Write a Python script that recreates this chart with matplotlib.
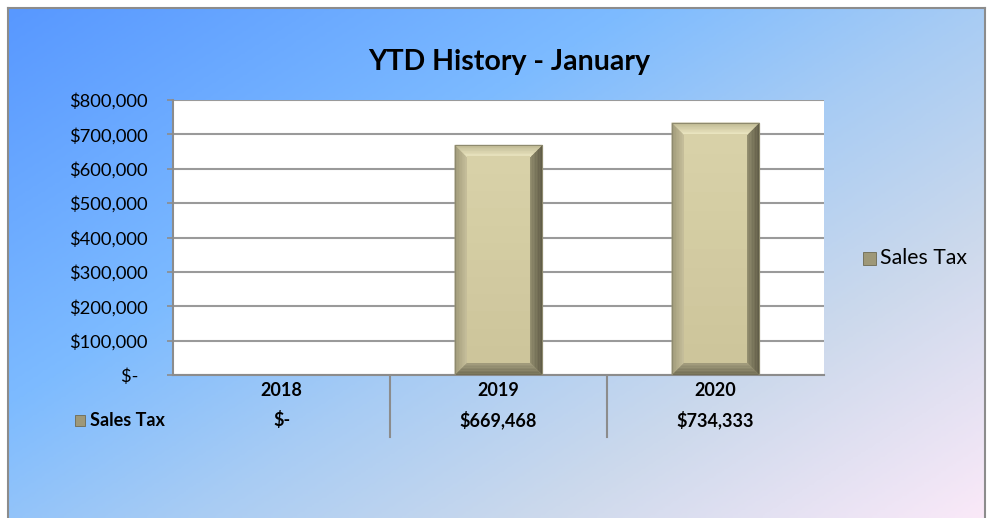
import numpy as np
import matplotlib
matplotlib.use("Agg")
import matplotlib.pyplot as plt
from matplotlib.colors import LinearSegmentedColormap, to_rgb
from matplotlib.patches import Polygon, Rectangle
from matplotlib.lines import Line2D
import matplotlib.transforms as mtransforms

years = ["2018", "2019", "2020"]
sales_tax = [0, 669468, 734333]
series_name = "Sales Tax"
title = "YTD History - January"
yticks = [0, 100000, 200000, 300000, 400000, 500000, 600000, 700000, 800000]

FONT = ["Lato", "DejaVu Sans"]
plt.rcParams['font.family'] = FONT

W, H = 988, 518
fig = plt.figure(figsize=(W / 100, H / 100), dpi=100)

# background gradient
bg = fig.add_axes([8 / W, 0, (985 - 8) / W, (518 - 8) / H])
bg.set_zorder(-10)
nx, ny = 400, 220
xx, yy = np.meshgrid(np.linspace(0, 1, nx), np.linspace(0, 1, ny))
t = (xx * 0.55 + yy * 0.45)
cmap = LinearSegmentedColormap.from_list("bg", [
    (0.0, "#5898FF"), (0.35, "#7DBBFF"), (0.55, "#A8CCF4"),
    (0.75, "#CCD9EC"), (1.0, "#FAE9F8")])
bg.imshow(t, cmap=cmap, aspect="auto", extent=[0, 1, 1, 0], interpolation="bilinear")
bg.set_xlim(0, 1); bg.set_ylim(1, 0)
bg.set_xticks([]); bg.set_yticks([])
for s in ["top", "left", "right"]:
    bg.spines[s].set_color("#8C8C8C")
    bg.spines[s].set_linewidth(1.5)
bg.spines["bottom"].set_visible(False)

fig.text(509 / W, 1 - 62 / H, title, ha="center", va="center",
         fontsize=20.5, fontweight="bold", color="#000000")

ax = fig.add_axes([173 / W, 1 - 375 / H, (824 - 173) / W, (375 - 100) / H])
ax.set_facecolor("white")
x = np.arange(len(years))
ax.set_xlim(-0.5, len(years) - 0.5)
ax.set_ylim(0, 800000)
ax.set_yticks(yticks)
ax.set_yticklabels([("$%s" % format(v, ",")) if v else "$-  " for v in yticks],
                   fontsize=13.2)
ax.set_xticks([])
ax.grid(axis="y", color="#9A9A9A", linewidth=1.5)
ax.set_axisbelow(True)
for s in ["top", "right"]:
    ax.spines[s].set_visible(False)
for s in ["left", "bottom"]:
    ax.spines[s].set_color("#8C8C8C")
    ax.spines[s].set_linewidth(1.5)
ax.tick_params(axis="y", length=4.5, color="#8C8C8C", width=1.2, pad=13.5)

bw = 0.405
bars = ax.bar(x, sales_tax, width=bw, color="#D2CAA0", edgecolor="#8E8A6E",
              linewidth=0.8, zorder=3)

fig.canvas.draw()
inv = ax.transData.inverted()
bev = 12
nstrip = 8
def mix(c1, c2, f):
    a, b = np.array(to_rgb(c1)), np.array(to_rgb(c2))
    return tuple(a + (b - a) * f)

face_cols = [("#6E6A52", "#A39D7E"),  # bottom
             ("#5C5843", "#8E896B"),  # right
             ("#BDB792", "#EEE9C4"),  # top
             ("#9C9676", "#C6BF9B")]  # left
for b in bars:
    if b.get_height() <= 0:
        continue
    x0, y0 = ax.transData.transform((b.get_x(), 0))
    x1, y1 = ax.transData.transform((b.get_x() + b.get_width(), b.get_height()))
    def rect(o):
        return [(x0 + o, y0 + o), (x1 - o, y0 + o), (x1 - o, y1 - o), (x0 + o, y1 - o)]
    for k in range(nstrip):
        o1 = rect(bev * k / nstrip)
        o2 = rect(bev * (k + 1) / nstrip + 0.3)
        f = (k + 0.5) / nstrip
        for j, (ca, cb) in enumerate(face_cols):
            pts = [o1[j], o1[(j + 1) % 4], o2[(j + 1) % 4], o2[j]]
            d = inv.transform(np.array(pts))
            ax.add_patch(Polygon(d, closed=True, facecolor=mix(ca, cb, f),
                                 edgecolor="none", zorder=4))
    # center with gentle vertical gradient
    inner = rect(bev)
    ncen = 12
    yb, yt = inner[0][1], inner[2][1]
    for k in range(ncen):
        ya = yb + (yt - yb) * k / ncen
        yc = yb + (yt - yb) * (k + 1) / ncen + 0.5
        f = k / (ncen - 1)
        pts = [(inner[0][0], ya), (inner[1][0], ya), (inner[1][0], yc), (inner[0][0], yc)]
        d = inv.transform(np.array(pts))
        ax.add_patch(Polygon(d, closed=True, facecolor=mix("#CDC59B", "#D8D1A8", f),
                             edgecolor="none", zorder=4))
    d = inv.transform(np.array(rect(0)))
    ax.add_patch(Polygon(d, closed=True, facecolor="none", edgecolor="#8E8A6E",
                         linewidth=0.8, zorder=5))

# data table
tr = mtransforms.blended_transform_factory(ax.transData, fig.transFigure)
for i, (yr, v) in enumerate(zip(years, sales_tax)):
    ax.text(i, 1 - 390 / H, yr, transform=tr, ha="center", va="center",
            fontsize=13, fontweight="bold")
    ax.text(i, 1 - 420 / H, ("$%s" % format(v, ",")) if v else "$-", transform=tr,
            ha="center", va="center", fontsize=13, fontweight="bold")
for i in range(1, len(years)):
    ax.add_line(Line2D([i - 0.5, i - 0.5], [1 - 376 / H, 1 - 437 / H], transform=tr,
                       color="#8C8C8C", linewidth=1.5, clip_on=False))

# table row header
fig.patches.append(Rectangle((75 / W, 1 - 426 / H), 10 / W, 11 / H, transform=fig.transFigure,
                             facecolor="#9E9878", edgecolor="#6E6A52", linewidth=0.6))
fig.text(90 / W, 1 - 420 / H, series_name, ha="left", va="center",
         fontsize=13, fontweight="bold")

# legend
fig.patches.append(Rectangle((863 / W, 1 - 265 / H), 13 / W, 13 / H, transform=fig.transFigure,
                             facecolor="#9E9878", edgecolor="#6E6A52", linewidth=0.6))
fig.text(880 / W, 1 - 258 / H, series_name, ha="left", va="center", fontsize=15.3)

fig.savefig("out.png", dpi=100)
